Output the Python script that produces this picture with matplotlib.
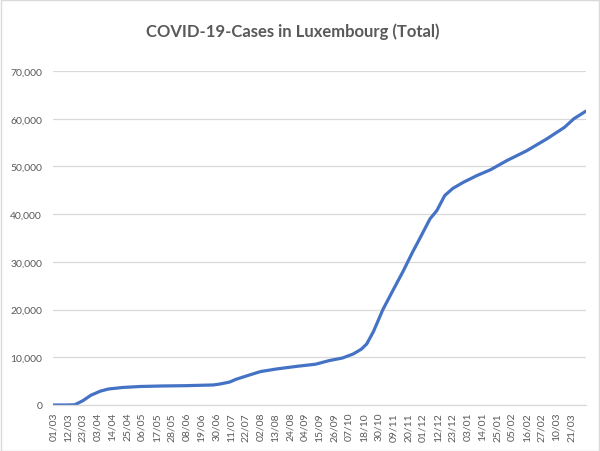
import matplotlib
matplotlib.use('Agg')
import matplotlib.pyplot as plt
from matplotlib.patches import Rectangle
from matplotlib.ticker import FuncFormatter

# day index since 01/03/2020 and total cases
days = [0, 10, 16, 22, 28, 35, 41, 52, 65, 80, 99, 119, 124, 131, 136,
        146, 154, 166, 181, 195, 205, 215, 223, 229, 233, 238, 245, 253,
        260, 267, 273, 280, 285, 291, 297, 305, 315, 325, 337, 352, 367,
        380, 387, 396]
cases = [0, 0, 50, 900, 2050, 2900, 3350, 3680, 3880, 3980, 4050, 4200,
         4400, 4800, 5400, 6300, 7000, 7550, 8100, 8550, 9300, 9850, 10700,
         11700, 12800, 15400, 20000, 24300, 28000, 32000, 35200, 39000,
         40700, 43900, 45400, 46700, 48100, 49300, 51200, 53300, 55800,
         58200, 60000, 61600]

tick_labels = ['01/03', '12/03', '23/03', '03/04', '14/04', '25/04', '06/05',
               '17/05', '28/05', '08/06', '19/06', '30/06', '11/07', '22/07',
               '02/08', '13/08', '24/08', '04/09', '15/09', '26/09', '07/10',
               '18/10', '30/10', '09/11', '20/11', '01/12', '12/12', '23/12',
               '03/01', '14/01', '25/01', '05/02', '16/02', '27/02', '10/03',
               '21/03']
tick_step = 11

txt = '#595959'
grid = '#d9d9d9'
plt.rcParams['font.family'] = ['Lato', 'DejaVu Sans']

fig = plt.figure(figsize=(6, 4.52), dpi=100)
ax = fig.add_axes([0.0888, 0.1018, 0.8879, 0.7389])

ax.plot(days, cases, color='#4472c4', lw=2.3, solid_capstyle='round',
        solid_joinstyle='round')

ax.set_xlim(0, days[-1])
ax.set_ylim(0, 70000)
ax.set_yticks(range(0, 70001, 10000))
ax.yaxis.set_major_formatter(FuncFormatter(lambda v, p: f'{int(v):,}'))
ax.set_xticks([i * tick_step for i in range(len(tick_labels))])
ax.set_xticklabels(tick_labels, rotation=90)

ax.grid(axis='y', color=grid, lw=0.9)
ax.set_axisbelow(True)
for s in ['top', 'right', 'left']:
    ax.spines[s].set_visible(False)
ax.spines['bottom'].set_color(grid)
ax.spines['bottom'].set_linewidth(0.9)
ax.tick_params(axis='both', length=0, labelsize=7.5, colors=txt)
ax.tick_params(axis='y', pad=8)
ax.tick_params(axis='x', pad=5)

fig.text(0.4875, 0.93, 'COVID-19-Cases in Luxembourg (Total)', ha='center',
         va='center', fontsize=12, fontweight='bold', color=txt)

fig.patches.append(Rectangle((0.001, 0.001), 0.997, 0.997, transform=fig.transFigure,
                             fill=False, edgecolor=grid, lw=1))

fig.savefig('out.png', dpi=100)
